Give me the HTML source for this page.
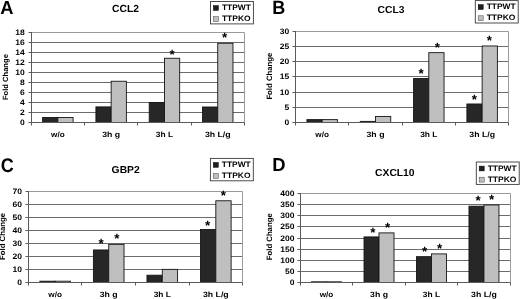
<!DOCTYPE html>
<html><head><meta charset="utf-8"><style>
html,body{margin:0;padding:0;background:#fff;}
svg{display:block;will-change:transform;}
.b{text-rendering:geometricPrecision;font-family:"Liberation Sans", sans-serif;font-weight:bold;fill:#000;}
</style></head><body>
<svg width="520" height="299" viewBox="0 0 520 299">
<rect width="520" height="299" fill="#fff"/>
<text transform="translate(0.24,14) scale(0.970,1)" font-size="18.9" class="b">A</text>
<text transform="translate(112.08,11.9) scale(1.003,1)" font-size="10.24" class="b">CCL2</text>
<rect x="210.5" y="1.5" width="42.9" height="22.4" fill="#fff" stroke="#3a3a3a" stroke-width="0.9"/>
<rect x="213.4" y="5.6" width="5" height="4.8" fill="#1e1e1e" stroke="#000" stroke-width="0.5"/>
<rect x="213.4" y="16.7" width="5" height="4.9" fill="#bfbfbf" stroke="#444" stroke-width="0.5"/>
<text transform="translate(221.9,10.1) scale(1.07,1)" font-size="7.85" class="b">TTPWT</text>
<text transform="translate(221.9,21.1) scale(1.08,1)" font-size="7.85" class="b">TTPKO</text>
<line x1="28.5" y1="122.5" x2="31.5" y2="122.5" stroke="#5a5a5a" stroke-width="1"/>
<text transform="translate(24.7,125.22) scale(1.08,1)" font-size="7.9" class="b" text-anchor="end">0</text>
<line x1="31.5" y1="112.5" x2="244.5" y2="112.5" stroke="#6c6c6c" stroke-width="1"/>
<line x1="28.5" y1="112.5" x2="31.5" y2="112.5" stroke="#5a5a5a" stroke-width="1"/>
<text transform="translate(24.7,115.22) scale(1.08,1)" font-size="7.9" class="b" text-anchor="end">2</text>
<line x1="31.5" y1="102.5" x2="244.5" y2="102.5" stroke="#6c6c6c" stroke-width="1"/>
<line x1="28.5" y1="102.5" x2="31.5" y2="102.5" stroke="#5a5a5a" stroke-width="1"/>
<text transform="translate(24.7,105.22) scale(1.08,1)" font-size="7.9" class="b" text-anchor="end">4</text>
<line x1="31.5" y1="92.5" x2="244.5" y2="92.5" stroke="#6c6c6c" stroke-width="1"/>
<line x1="28.5" y1="92.5" x2="31.5" y2="92.5" stroke="#5a5a5a" stroke-width="1"/>
<text transform="translate(24.7,95.22) scale(1.08,1)" font-size="7.9" class="b" text-anchor="end">6</text>
<line x1="31.5" y1="82.5" x2="244.5" y2="82.5" stroke="#6c6c6c" stroke-width="1"/>
<line x1="28.5" y1="82.5" x2="31.5" y2="82.5" stroke="#5a5a5a" stroke-width="1"/>
<text transform="translate(24.7,85.22) scale(1.08,1)" font-size="7.9" class="b" text-anchor="end">8</text>
<line x1="31.5" y1="72.5" x2="244.5" y2="72.5" stroke="#6c6c6c" stroke-width="1"/>
<line x1="28.5" y1="72.5" x2="31.5" y2="72.5" stroke="#5a5a5a" stroke-width="1"/>
<text transform="translate(24.7,75.22) scale(1.08,1)" font-size="7.9" class="b" text-anchor="end">10</text>
<line x1="31.5" y1="62.5" x2="244.5" y2="62.5" stroke="#6c6c6c" stroke-width="1"/>
<line x1="28.5" y1="62.5" x2="31.5" y2="62.5" stroke="#5a5a5a" stroke-width="1"/>
<text transform="translate(24.7,65.22) scale(1.08,1)" font-size="7.9" class="b" text-anchor="end">12</text>
<line x1="31.5" y1="52.5" x2="244.5" y2="52.5" stroke="#6c6c6c" stroke-width="1"/>
<line x1="28.5" y1="52.5" x2="31.5" y2="52.5" stroke="#5a5a5a" stroke-width="1"/>
<text transform="translate(24.7,55.22) scale(1.08,1)" font-size="7.9" class="b" text-anchor="end">14</text>
<line x1="31.5" y1="42.5" x2="244.5" y2="42.5" stroke="#6c6c6c" stroke-width="1"/>
<line x1="28.5" y1="42.5" x2="31.5" y2="42.5" stroke="#5a5a5a" stroke-width="1"/>
<text transform="translate(24.7,45.22) scale(1.08,1)" font-size="7.9" class="b" text-anchor="end">16</text>
<line x1="31.5" y1="32.5" x2="244.5" y2="32.5" stroke="#9a9a9a" stroke-width="1"/>
<line x1="28.5" y1="32.5" x2="31.5" y2="32.5" stroke="#5a5a5a" stroke-width="1"/>
<text transform="translate(24.7,35.22) scale(1.08,1)" font-size="7.9" class="b" text-anchor="end">18</text>
<line x1="244.5" y1="32.5" x2="244.5" y2="122.5" stroke="#9a9a9a" stroke-width="1"/>
<rect x="42.62" y="117.5" width="15.23" height="5" fill="#272727" stroke="#151515" stroke-width="0.9"/>
<rect x="57.85" y="117.5" width="15.23" height="5" fill="#bfbfbf" stroke="#151515" stroke-width="0.9"/>
<rect x="95.92" y="106.9" width="15.23" height="15.6" fill="#272727" stroke="#151515" stroke-width="0.9"/>
<rect x="111.15" y="81.25" width="15.23" height="41.25" fill="#bfbfbf" stroke="#151515" stroke-width="0.9"/>
<rect x="149.22" y="102.5" width="15.23" height="20" fill="#272727" stroke="#151515" stroke-width="0.9"/>
<rect x="164.45" y="58.25" width="15.23" height="64.25" fill="#bfbfbf" stroke="#151515" stroke-width="0.9"/>
<rect x="202.52" y="107" width="15.23" height="15.5" fill="#272727" stroke="#151515" stroke-width="0.9"/>
<rect x="217.75" y="43.25" width="15.23" height="79.25" fill="#bfbfbf" stroke="#151515" stroke-width="0.9"/>
<text x="172" y="59.33" font-size="13.4" class="b" text-anchor="middle">*</text>
<text x="224.55" y="42.43" font-size="13.4" class="b" text-anchor="middle">*</text>
<line x1="31.5" y1="32" x2="31.5" y2="125.5" stroke="#5a5a5a" stroke-width="1"/>
<line x1="31.5" y1="122.5" x2="244.5" y2="122.5" stroke="#5a5a5a" stroke-width="1"/>
<line x1="84.5" y1="122.5" x2="84.5" y2="125.5" stroke="#5a5a5a" stroke-width="1"/>
<line x1="137.5" y1="122.5" x2="137.5" y2="125.5" stroke="#5a5a5a" stroke-width="1"/>
<line x1="191.5" y1="122.5" x2="191.5" y2="125.5" stroke="#5a5a5a" stroke-width="1"/>
<line x1="244.5" y1="122.5" x2="244.5" y2="125.5" stroke="#5a5a5a" stroke-width="1"/>
<text transform="translate(57.85,137) scale(1.064,1)" font-size="7.7" class="b" text-anchor="middle">w/o</text>
<text transform="translate(111.15,137) scale(1.136,1)" font-size="7.7" class="b" text-anchor="middle">3h g</text>
<text transform="translate(164.45,137) scale(1.093,1)" font-size="7.7" class="b" text-anchor="middle">3h L</text>
<text transform="translate(217.75,137) scale(1.138,1)" font-size="7.7" class="b" text-anchor="middle">3h L/g</text>
<text transform="translate(8.3,100.11) rotate(-90)" font-size="7.6" class="b">Fold Change</text>
<text transform="translate(272.19,14) scale(0.940,1)" font-size="19.19" class="b">B</text>
<text transform="translate(377.58,13.1) scale(1.016,1)" font-size="10.17" class="b">CCL3</text>
<rect x="475.3" y="0.6" width="42.9" height="22.4" fill="#fff" stroke="#3a3a3a" stroke-width="0.9"/>
<rect x="478.2" y="4.7" width="5" height="4.8" fill="#1e1e1e" stroke="#000" stroke-width="0.5"/>
<rect x="478.2" y="15.8" width="5" height="4.9" fill="#bfbfbf" stroke="#444" stroke-width="0.5"/>
<text transform="translate(486.7,9.2) scale(1.07,1)" font-size="7.85" class="b">TTPWT</text>
<text transform="translate(486.7,20.2) scale(1.08,1)" font-size="7.85" class="b">TTPKO</text>
<line x1="292.5" y1="122.5" x2="295.5" y2="122.5" stroke="#5a5a5a" stroke-width="1"/>
<text transform="translate(289.2,125.22) scale(1.08,1)" font-size="7.9" class="b" text-anchor="end">0</text>
<line x1="295.5" y1="107.5" x2="508.5" y2="107.5" stroke="#6c6c6c" stroke-width="1"/>
<line x1="292.5" y1="107.5" x2="295.5" y2="107.5" stroke="#5a5a5a" stroke-width="1"/>
<text transform="translate(289.2,110.22) scale(1.08,1)" font-size="7.9" class="b" text-anchor="end">5</text>
<line x1="295.5" y1="92.5" x2="508.5" y2="92.5" stroke="#6c6c6c" stroke-width="1"/>
<line x1="292.5" y1="92.5" x2="295.5" y2="92.5" stroke="#5a5a5a" stroke-width="1"/>
<text transform="translate(289.2,95.22) scale(1.08,1)" font-size="7.9" class="b" text-anchor="end">10</text>
<line x1="295.5" y1="76.5" x2="508.5" y2="76.5" stroke="#6c6c6c" stroke-width="1"/>
<line x1="292.5" y1="76.5" x2="295.5" y2="76.5" stroke="#5a5a5a" stroke-width="1"/>
<text transform="translate(289.2,79.22) scale(1.08,1)" font-size="7.9" class="b" text-anchor="end">15</text>
<line x1="295.5" y1="61.5" x2="508.5" y2="61.5" stroke="#6c6c6c" stroke-width="1"/>
<line x1="292.5" y1="61.5" x2="295.5" y2="61.5" stroke="#5a5a5a" stroke-width="1"/>
<text transform="translate(289.2,64.22) scale(1.08,1)" font-size="7.9" class="b" text-anchor="end">20</text>
<line x1="295.5" y1="46.5" x2="508.5" y2="46.5" stroke="#6c6c6c" stroke-width="1"/>
<line x1="292.5" y1="46.5" x2="295.5" y2="46.5" stroke="#5a5a5a" stroke-width="1"/>
<text transform="translate(289.2,49.22) scale(1.08,1)" font-size="7.9" class="b" text-anchor="end">25</text>
<line x1="295.5" y1="31.5" x2="508.5" y2="31.5" stroke="#9a9a9a" stroke-width="1"/>
<line x1="292.5" y1="31.5" x2="295.5" y2="31.5" stroke="#5a5a5a" stroke-width="1"/>
<text transform="translate(289.2,34.22) scale(1.08,1)" font-size="7.9" class="b" text-anchor="end">30</text>
<line x1="508.5" y1="31.5" x2="508.5" y2="122.5" stroke="#9a9a9a" stroke-width="1"/>
<rect x="306.93" y="119.62" width="15.24" height="2.88" fill="#272727" stroke="#151515" stroke-width="0.9"/>
<rect x="322.16" y="119.62" width="15.24" height="2.88" fill="#bfbfbf" stroke="#151515" stroke-width="0.9"/>
<rect x="360.25" y="121.38" width="15.24" height="1.12" fill="#272727" stroke="#151515" stroke-width="0.9"/>
<rect x="375.49" y="116.43" width="15.24" height="6.07" fill="#bfbfbf" stroke="#151515" stroke-width="0.9"/>
<rect x="413.58" y="78.47" width="15.24" height="44.03" fill="#272727" stroke="#151515" stroke-width="0.9"/>
<rect x="428.81" y="52.66" width="15.24" height="69.84" fill="#bfbfbf" stroke="#151515" stroke-width="0.9"/>
<rect x="466.9" y="103.98" width="15.24" height="18.52" fill="#272727" stroke="#151515" stroke-width="0.9"/>
<rect x="482.14" y="45.98" width="15.24" height="76.52" fill="#bfbfbf" stroke="#151515" stroke-width="0.9"/>
<text x="421.1" y="78.03" font-size="13.4" class="b" text-anchor="middle">*</text>
<text x="437.25" y="51.88" font-size="13.4" class="b" text-anchor="middle">*</text>
<text x="474.35" y="104.08" font-size="13.4" class="b" text-anchor="middle">*</text>
<text x="489.45" y="45.03" font-size="13.4" class="b" text-anchor="middle">*</text>
<line x1="295.5" y1="31" x2="295.5" y2="125.5" stroke="#5a5a5a" stroke-width="1"/>
<line x1="295.5" y1="122.5" x2="508.5" y2="122.5" stroke="#5a5a5a" stroke-width="1"/>
<line x1="348.5" y1="122.5" x2="348.5" y2="125.5" stroke="#5a5a5a" stroke-width="1"/>
<line x1="402.5" y1="122.5" x2="402.5" y2="125.5" stroke="#5a5a5a" stroke-width="1"/>
<line x1="455.5" y1="122.5" x2="455.5" y2="125.5" stroke="#5a5a5a" stroke-width="1"/>
<line x1="508.5" y1="122.5" x2="508.5" y2="125.5" stroke="#5a5a5a" stroke-width="1"/>
<text transform="translate(322.16,136.9) scale(1.064,1)" font-size="7.7" class="b" text-anchor="middle">w/o</text>
<text transform="translate(375.49,136.9) scale(1.136,1)" font-size="7.7" class="b" text-anchor="middle">3h g</text>
<text transform="translate(428.81,136.9) scale(1.093,1)" font-size="7.7" class="b" text-anchor="middle">3h L</text>
<text transform="translate(482.14,136.9) scale(1.138,1)" font-size="7.7" class="b" text-anchor="middle">3h L/g</text>
<text transform="translate(272,99.62) rotate(-90)" font-size="7.75" class="b">Fold Change</text>
<text transform="translate(0.66,171.7) scale(0.919,1)" font-size="19.63" class="b">C</text>
<text transform="translate(111.57,172.5) scale(1.034,1)" font-size="10.03" class="b">GBP2</text>
<rect x="210.4" y="158.4" width="42.9" height="22.4" fill="#fff" stroke="#3a3a3a" stroke-width="0.9"/>
<rect x="213.3" y="162.5" width="5" height="4.8" fill="#1e1e1e" stroke="#000" stroke-width="0.5"/>
<rect x="213.3" y="173.6" width="5" height="4.9" fill="#bfbfbf" stroke="#444" stroke-width="0.5"/>
<text transform="translate(221.8,167) scale(1.07,1)" font-size="7.85" class="b">TTPWT</text>
<text transform="translate(221.8,178) scale(1.08,1)" font-size="7.85" class="b">TTPKO</text>
<line x1="25.5" y1="282.5" x2="28.5" y2="282.5" stroke="#5a5a5a" stroke-width="1"/>
<text transform="translate(22,285.22) scale(1.08,1)" font-size="7.9" class="b" text-anchor="end">0</text>
<line x1="28.5" y1="269.5" x2="242.5" y2="269.5" stroke="#6c6c6c" stroke-width="1"/>
<line x1="25.5" y1="269.5" x2="28.5" y2="269.5" stroke="#5a5a5a" stroke-width="1"/>
<text transform="translate(22,272.22) scale(1.08,1)" font-size="7.9" class="b" text-anchor="end">10</text>
<line x1="28.5" y1="256.5" x2="242.5" y2="256.5" stroke="#6c6c6c" stroke-width="1"/>
<line x1="25.5" y1="256.5" x2="28.5" y2="256.5" stroke="#5a5a5a" stroke-width="1"/>
<text transform="translate(22,259.22) scale(1.08,1)" font-size="7.9" class="b" text-anchor="end">20</text>
<line x1="28.5" y1="243.5" x2="242.5" y2="243.5" stroke="#6c6c6c" stroke-width="1"/>
<line x1="25.5" y1="243.5" x2="28.5" y2="243.5" stroke="#5a5a5a" stroke-width="1"/>
<text transform="translate(22,246.22) scale(1.08,1)" font-size="7.9" class="b" text-anchor="end">30</text>
<line x1="28.5" y1="230.5" x2="242.5" y2="230.5" stroke="#6c6c6c" stroke-width="1"/>
<line x1="25.5" y1="230.5" x2="28.5" y2="230.5" stroke="#5a5a5a" stroke-width="1"/>
<text transform="translate(22,233.22) scale(1.08,1)" font-size="7.9" class="b" text-anchor="end">40</text>
<line x1="28.5" y1="217.5" x2="242.5" y2="217.5" stroke="#6c6c6c" stroke-width="1"/>
<line x1="25.5" y1="217.5" x2="28.5" y2="217.5" stroke="#5a5a5a" stroke-width="1"/>
<text transform="translate(22,220.22) scale(1.08,1)" font-size="7.9" class="b" text-anchor="end">50</text>
<line x1="28.5" y1="204.5" x2="242.5" y2="204.5" stroke="#6c6c6c" stroke-width="1"/>
<line x1="25.5" y1="204.5" x2="28.5" y2="204.5" stroke="#5a5a5a" stroke-width="1"/>
<text transform="translate(22,207.22) scale(1.08,1)" font-size="7.9" class="b" text-anchor="end">60</text>
<line x1="28.5" y1="191.5" x2="242.5" y2="191.5" stroke="#9a9a9a" stroke-width="1"/>
<line x1="25.5" y1="191.5" x2="28.5" y2="191.5" stroke="#5a5a5a" stroke-width="1"/>
<text transform="translate(22,194.22) scale(1.08,1)" font-size="7.9" class="b" text-anchor="end">70</text>
<line x1="242.5" y1="191.5" x2="242.5" y2="282.5" stroke="#9a9a9a" stroke-width="1"/>
<rect x="39.88" y="281.2" width="15.3" height="1.3" fill="#272727" stroke="#151515" stroke-width="0.9"/>
<rect x="55.17" y="281.2" width="15.3" height="1.3" fill="#bfbfbf" stroke="#151515" stroke-width="0.9"/>
<rect x="93.42" y="249.96" width="15.3" height="32.54" fill="#272727" stroke="#151515" stroke-width="0.9"/>
<rect x="108.72" y="244.37" width="15.3" height="38.13" fill="#bfbfbf" stroke="#151515" stroke-width="0.9"/>
<rect x="146.97" y="275.21" width="15.3" height="7.29" fill="#272727" stroke="#151515" stroke-width="0.9"/>
<rect x="162.28" y="269.36" width="15.3" height="13.14" fill="#bfbfbf" stroke="#151515" stroke-width="0.9"/>
<rect x="200.52" y="229.53" width="15.3" height="52.97" fill="#272727" stroke="#151515" stroke-width="0.9"/>
<rect x="215.82" y="200.77" width="15.3" height="81.73" fill="#bfbfbf" stroke="#151515" stroke-width="0.9"/>
<text x="101.1" y="248.23" font-size="13.4" class="b" text-anchor="middle">*</text>
<text x="116.85" y="243.23" font-size="13.4" class="b" text-anchor="middle">*</text>
<text x="207.5" y="230.03" font-size="13.4" class="b" text-anchor="middle">*</text>
<text x="223.4" y="200.13" font-size="13.4" class="b" text-anchor="middle">*</text>
<line x1="28.5" y1="191" x2="28.5" y2="285.5" stroke="#5a5a5a" stroke-width="1"/>
<line x1="28.5" y1="282.5" x2="242.5" y2="282.5" stroke="#5a5a5a" stroke-width="1"/>
<line x1="81.5" y1="282.5" x2="81.5" y2="285.5" stroke="#5a5a5a" stroke-width="1"/>
<line x1="135.5" y1="282.5" x2="135.5" y2="285.5" stroke="#5a5a5a" stroke-width="1"/>
<line x1="189.5" y1="282.5" x2="189.5" y2="285.5" stroke="#5a5a5a" stroke-width="1"/>
<line x1="242.5" y1="282.5" x2="242.5" y2="285.5" stroke="#5a5a5a" stroke-width="1"/>
<text transform="translate(55.17,297) scale(1.064,1)" font-size="7.7" class="b" text-anchor="middle">w/o</text>
<text transform="translate(108.72,297) scale(1.136,1)" font-size="7.7" class="b" text-anchor="middle">3h g</text>
<text transform="translate(162.28,297) scale(1.093,1)" font-size="7.7" class="b" text-anchor="middle">3h L</text>
<text transform="translate(215.82,297) scale(1.138,1)" font-size="7.7" class="b" text-anchor="middle">3h L/g</text>
<text transform="translate(5.3,259.92) rotate(-90)" font-size="7.75" class="b">Fold Change</text>
<text transform="translate(272.16,171.3) scale(0.983,1)" font-size="18.75" class="b">D</text>
<text transform="translate(375.08,175.6) scale(1.014,1)" font-size="10.17" class="b">CXCL10</text>
<rect x="476.3" y="162" width="42.9" height="22.4" fill="#fff" stroke="#3a3a3a" stroke-width="0.9"/>
<rect x="479.2" y="166.1" width="5" height="4.8" fill="#1e1e1e" stroke="#000" stroke-width="0.5"/>
<rect x="479.2" y="177.2" width="5" height="4.9" fill="#bfbfbf" stroke="#444" stroke-width="0.5"/>
<text transform="translate(487.7,170.6) scale(1.07,1)" font-size="7.85" class="b">TTPWT</text>
<text transform="translate(487.7,181.6) scale(1.08,1)" font-size="7.85" class="b">TTPKO</text>
<line x1="297.5" y1="282.5" x2="300.5" y2="282.5" stroke="#5a5a5a" stroke-width="1"/>
<text transform="translate(294.4,285.22) scale(1.08,1)" font-size="7.9" class="b" text-anchor="end">0</text>
<line x1="300.5" y1="271.5" x2="510.5" y2="271.5" stroke="#6c6c6c" stroke-width="1"/>
<line x1="297.5" y1="271.5" x2="300.5" y2="271.5" stroke="#5a5a5a" stroke-width="1"/>
<text transform="translate(294.4,274.22) scale(1.08,1)" font-size="7.9" class="b" text-anchor="end">50</text>
<line x1="300.5" y1="260.5" x2="510.5" y2="260.5" stroke="#6c6c6c" stroke-width="1"/>
<line x1="297.5" y1="260.5" x2="300.5" y2="260.5" stroke="#5a5a5a" stroke-width="1"/>
<text transform="translate(294.4,263.22) scale(1.08,1)" font-size="7.9" class="b" text-anchor="end">100</text>
<line x1="300.5" y1="249.5" x2="510.5" y2="249.5" stroke="#6c6c6c" stroke-width="1"/>
<line x1="297.5" y1="249.5" x2="300.5" y2="249.5" stroke="#5a5a5a" stroke-width="1"/>
<text transform="translate(294.4,252.22) scale(1.08,1)" font-size="7.9" class="b" text-anchor="end">150</text>
<line x1="300.5" y1="238.5" x2="510.5" y2="238.5" stroke="#6c6c6c" stroke-width="1"/>
<line x1="297.5" y1="238.5" x2="300.5" y2="238.5" stroke="#5a5a5a" stroke-width="1"/>
<text transform="translate(294.4,241.22) scale(1.08,1)" font-size="7.9" class="b" text-anchor="end">200</text>
<line x1="300.5" y1="226.5" x2="510.5" y2="226.5" stroke="#6c6c6c" stroke-width="1"/>
<line x1="297.5" y1="226.5" x2="300.5" y2="226.5" stroke="#5a5a5a" stroke-width="1"/>
<text transform="translate(294.4,229.22) scale(1.08,1)" font-size="7.9" class="b" text-anchor="end">250</text>
<line x1="300.5" y1="215.5" x2="510.5" y2="215.5" stroke="#6c6c6c" stroke-width="1"/>
<line x1="297.5" y1="215.5" x2="300.5" y2="215.5" stroke="#5a5a5a" stroke-width="1"/>
<text transform="translate(294.4,218.22) scale(1.08,1)" font-size="7.9" class="b" text-anchor="end">300</text>
<line x1="300.5" y1="204.5" x2="510.5" y2="204.5" stroke="#6c6c6c" stroke-width="1"/>
<line x1="297.5" y1="204.5" x2="300.5" y2="204.5" stroke="#5a5a5a" stroke-width="1"/>
<text transform="translate(294.4,207.22) scale(1.08,1)" font-size="7.9" class="b" text-anchor="end">350</text>
<line x1="300.5" y1="193.5" x2="510.5" y2="193.5" stroke="#9a9a9a" stroke-width="1"/>
<line x1="297.5" y1="193.5" x2="300.5" y2="193.5" stroke="#5a5a5a" stroke-width="1"/>
<text transform="translate(294.4,196.22) scale(1.08,1)" font-size="7.9" class="b" text-anchor="end">400</text>
<line x1="510.5" y1="193.5" x2="510.5" y2="282.5" stroke="#9a9a9a" stroke-width="1"/>
<rect x="311.54" y="281.83" width="14.99" height="0.67" fill="#272727" stroke="#151515" stroke-width="0.9"/>
<rect x="326.54" y="281.83" width="14.99" height="0.67" fill="#bfbfbf" stroke="#151515" stroke-width="0.9"/>
<rect x="364.02" y="236.91" width="14.99" height="45.59" fill="#272727" stroke="#151515" stroke-width="0.9"/>
<rect x="379.01" y="232.88" width="14.99" height="49.62" fill="#bfbfbf" stroke="#151515" stroke-width="0.9"/>
<rect x="416.49" y="256.66" width="14.99" height="25.84" fill="#272727" stroke="#151515" stroke-width="0.9"/>
<rect x="431.49" y="253.89" width="14.99" height="28.61" fill="#bfbfbf" stroke="#151515" stroke-width="0.9"/>
<rect x="468.97" y="206.17" width="14.99" height="76.33" fill="#272727" stroke="#151515" stroke-width="0.9"/>
<rect x="483.96" y="204.95" width="14.99" height="77.55" fill="#bfbfbf" stroke="#151515" stroke-width="0.9"/>
<text x="372.75" y="236.88" font-size="13.4" class="b" text-anchor="middle">*</text>
<text x="387.5" y="232.28" font-size="13.4" class="b" text-anchor="middle">*</text>
<text x="424.6" y="256.08" font-size="13.4" class="b" text-anchor="middle">*</text>
<text x="439.5" y="253.33" font-size="13.4" class="b" text-anchor="middle">*</text>
<text x="478.1" y="205.43" font-size="13.4" class="b" text-anchor="middle">*</text>
<text x="491.55" y="204.18" font-size="13.4" class="b" text-anchor="middle">*</text>
<line x1="300.5" y1="193" x2="300.5" y2="285.5" stroke="#5a5a5a" stroke-width="1"/>
<line x1="300.5" y1="282.5" x2="510.5" y2="282.5" stroke="#5a5a5a" stroke-width="1"/>
<line x1="352.5" y1="282.5" x2="352.5" y2="285.5" stroke="#5a5a5a" stroke-width="1"/>
<line x1="405.5" y1="282.5" x2="405.5" y2="285.5" stroke="#5a5a5a" stroke-width="1"/>
<line x1="457.5" y1="282.5" x2="457.5" y2="285.5" stroke="#5a5a5a" stroke-width="1"/>
<line x1="510.5" y1="282.5" x2="510.5" y2="285.5" stroke="#5a5a5a" stroke-width="1"/>
<text transform="translate(326.54,296.9) scale(1.064,1)" font-size="7.7" class="b" text-anchor="middle">w/o</text>
<text transform="translate(379.01,296.9) scale(1.136,1)" font-size="7.7" class="b" text-anchor="middle">3h g</text>
<text transform="translate(431.49,296.9) scale(1.093,1)" font-size="7.7" class="b" text-anchor="middle">3h L</text>
<text transform="translate(483.96,296.9) scale(1.138,1)" font-size="7.7" class="b" text-anchor="middle">3h L/g</text>
<text transform="translate(271.6,260.22) rotate(-90)" font-size="7.75" class="b">Fold Change</text>
</svg>
</body></html>
